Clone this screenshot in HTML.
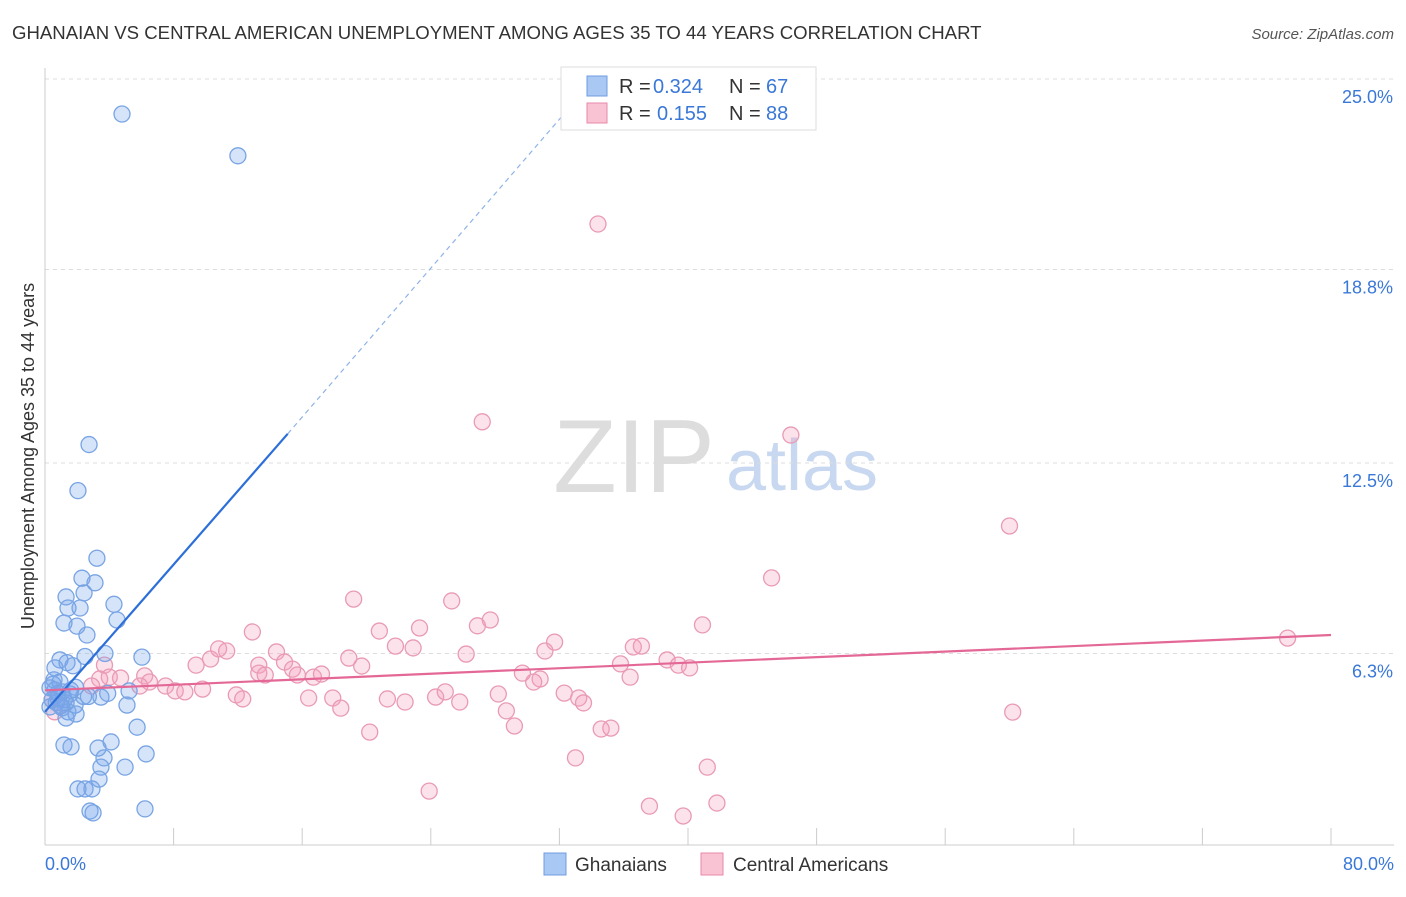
<!DOCTYPE html>
<html><head><meta charset="utf-8"><style>
body{margin:0;background:#fff;font-family:"Liberation Sans",sans-serif;}
svg text{font-family:"Liberation Sans",sans-serif;}
</style></head><body>
<svg id="chart" width="1406" height="892">
<text x="12" y="39" font-size="18.6" fill="#333">GHANAIAN VS CENTRAL AMERICAN UNEMPLOYMENT AMONG AGES 35 TO 44 YEARS CORRELATION CHART</text>
<text x="1394" y="39" font-size="15" fill="#555" font-style="italic" text-anchor="end">Source: ZipAtlas.com</text>
<text x="634" y="492" font-size="104" fill="#ddd" font-family="Liberation Serif" text-anchor="middle">ZIP</text>
<text x="802" y="490" font-size="72" fill="#c8d8f0" text-anchor="middle">atlas</text>
<text transform="translate(34,456) rotate(-90)" font-size="18" fill="#333" text-anchor="middle">Unemployment Among Ages 35 to 44 years</text>
<g id="grid"></g><g id="pts"></g><g id="lines"></g>
<g>
<rect x="561" y="67" width="255" height="63" fill="#fff" stroke="#ddd"/>
<rect x="587" y="76" width="20" height="20" fill="#a9c8f4" stroke="#6f9de0"/>
<rect x="587" y="103" width="20" height="20" fill="#f9c3d4" stroke="#e88aaa"/>
<text x="619" y="93" font-size="20" fill="#333">R =</text>
<text x="653" y="93" font-size="20" fill="#3a78d8">0.324</text>
<text x="729" y="93" font-size="20" fill="#333">N =</text>
<text x="766" y="93" font-size="20" fill="#3a78d8">67</text>
<text x="619" y="120" font-size="20" fill="#333">R =</text>
<text x="657" y="120" font-size="20" fill="#3a78d8">0.155</text>
<text x="729" y="120" font-size="20" fill="#333">N =</text>
<text x="766" y="120" font-size="20" fill="#3a78d8">88</text>
</g>
<g>
<rect x="544" y="853" width="22" height="22" fill="#a9c8f4" stroke="#6f9de0"/>
<text x="575" y="871" font-size="19" fill="#333">Ghanaians</text>
<rect x="701" y="853" width="22" height="22" fill="#f9c3d4" stroke="#e88aaa"/>
<text x="733" y="871" font-size="19" fill="#333">Central Americans</text>
</g>
</svg>
<script>
const yTicks=[6.3,12.5,18.8,25.0];
const yTickLabels=["6.3%","12.5%","18.8%","25.0%"];
const xTickCount=10;
const xLabels=["0.0%","80.0%"];
const blueX=[4.79,12.0,2.74,2.05,3.23,3.11,2.3,2.43,1.31,4.29,1.43,2.18,4.48,1.18,1.99,2.61,3.73,2.49,6.03,0.93,1.37,1.74,0.62,0.56,0.93,0.31,0.62,1.06,1.56,0.81,0.44,1.31,1.87,0.31,1.06,1.43,1.93,1.31,5.23,3.48,5.1,5.73,4.11,3.3,1.18,1.62,3.67,3.48,4.98,6.29,3.36,2.05,2.49,2.92,2.8,2.99,6.22,0.8,1.2,1.9,2.4,0.5,0.7,1.0,1.6,2.7,3.9];
const blueY=[23.86,22.5,13.1,11.6,9.4,8.6,8.75,8.27,8.14,7.9,7.78,7.78,7.39,7.29,7.19,6.9,6.3,6.2,6.18,6.09,6.0,5.9,5.83,5.44,5.37,5.18,5.11,5.05,4.98,4.85,4.79,4.69,4.62,4.56,4.53,4.4,4.33,4.2,5.08,4.88,4.62,3.9,3.42,3.22,3.32,3.26,2.9,2.6,2.6,3.03,2.21,1.89,1.89,1.89,1.17,1.11,1.24,5.0,4.8,5.2,4.9,5.3,4.7,4.6,5.1,4.9,5.0];
const pinkX=[34.4,27.2,46.4,60.0,45.2,19.2,25.3,27.7,40.9,12.9,20.8,23.3,26.9,31.7,21.8,22.9,36.6,37.1,10.3,10.8,11.3,14.4,18.9,26.2,31.1,38.7,77.3,9.4,13.3,14.9,15.4,13.3,13.7,15.7,16.7,17.2,19.7,35.8,39.4,40.1,29.7,30.8,36.4,3.7,4.0,4.7,3.4,6.2,6.5,2.9,5.9,7.5,8.1,8.7,9.8,11.9,12.3,16.4,17.9,18.4,21.3,22.4,24.3,24.9,25.8,28.2,28.7,30.4,32.3,33.2,33.5,60.2,29.2,20.2,34.6,35.2,33.0,41.2,23.9,37.6,41.8,39.7,0.6,0.93,0.44];
const pinkY=[20.28,13.84,13.41,10.45,8.76,8.07,8.01,7.39,7.23,7.0,7.03,7.13,7.2,6.67,6.54,6.48,6.51,6.54,6.12,6.45,6.38,6.35,6.15,6.28,6.38,6.09,6.8,5.92,5.92,6.02,5.79,5.66,5.6,5.6,5.53,5.63,5.89,5.96,5.92,5.83,5.66,5.47,5.53,5.92,5.53,5.5,5.47,5.57,5.37,5.24,5.24,5.24,5.08,5.05,5.14,4.95,4.82,4.85,4.85,4.52,4.82,4.72,4.88,5.05,4.72,4.98,4.43,5.37,5.01,4.85,4.69,4.39,3.94,3.74,3.84,3.87,2.9,2.6,1.82,1.33,1.43,1.01,4.4,4.6,4.8];
const X0=45,X1=1331,Y0=847,YS=30.72;
const sx=v=>X0+(X1-X0)*v/80, sy=v=>Y0-v*YS;
const NS="http://www.w3.org/2000/svg";
function mk(tag,attrs,parent){const e=document.createElementNS(NS,tag);for(const k in attrs)e.setAttribute(k,attrs[k]);parent.appendChild(e);return e;}
const g=document.getElementById('grid');
yTicks.forEach((t,i)=>{
 const l=mk('line',{x1:45,x2:1394,y1:sy(t),y2:sy(t),stroke:'#ddd','stroke-dasharray':'4,4'},g);
 
 
 const tx=mk('text',{x:1393,y:sy(t)+24,'font-size':18,fill:'#3a78d8','text-anchor':'end'},g);
 tx.textContent=yTickLabels[i];
 
 
});
const ax=mk('line',{x1:45,x2:1394,y1:845,y2:845,stroke:'#ccc'},g);


const ay=mk('line',{x1:45,x2:45,y1:68,y2:845,stroke:'#ccc'},g);


for(let i=0;i<=xTickCount;i++){
 const v=80*i/xTickCount;
 const t=mk('line',{x1:sx(v),x2:sx(v),y1:828,y2:845,stroke:'#ccc'},g);
 
 
}
[[0,'start',45],[80,'end',1394]].forEach((a,i)=>{
 const t=mk('text',{x:a[2],y:870,'font-size':18,fill:'#3a78d8','text-anchor':a[1]},g);
 t.textContent=xLabels[i];
 
 
});
const P=document.getElementById('pts');
pinkX.forEach((x,i)=>{
 const c=mk('circle',{cx:sx(x),cy:sy(pinkY[i]),r:8,fill:'rgba(244,160,190,0.3)',stroke:'#e99ab5','stroke-width':1.3},P);
 
 
});
blueX.forEach((x,i)=>{
 const c=mk('circle',{cx:sx(x),cy:sy(blueY[i]),r:8,fill:'rgba(120,165,235,0.3)',stroke:'#78a4e4','stroke-width':1.3},P);
 
 
});
const L=document.getElementById('lines');
const bl=mk('line',{x1:sx(0),y1:sy(4.4),x2:sx(15.1),y2:sy(13.45),stroke:'#2d6fd8','stroke-width':2.2},L);


const bd=mk('line',{x1:sx(15.1),y1:sy(13.45),x2:sx(34),y2:sy(24.9),stroke:'#8fb3e8','stroke-width':1.2,'stroke-dasharray':'5,4'},L);


const pl=mk('line',{x1:sx(0),y1:sy(5.1),x2:sx(80),y2:sy(6.9),stroke:'#e46896','stroke-width':2.2},L);


</script>
</body></html>
